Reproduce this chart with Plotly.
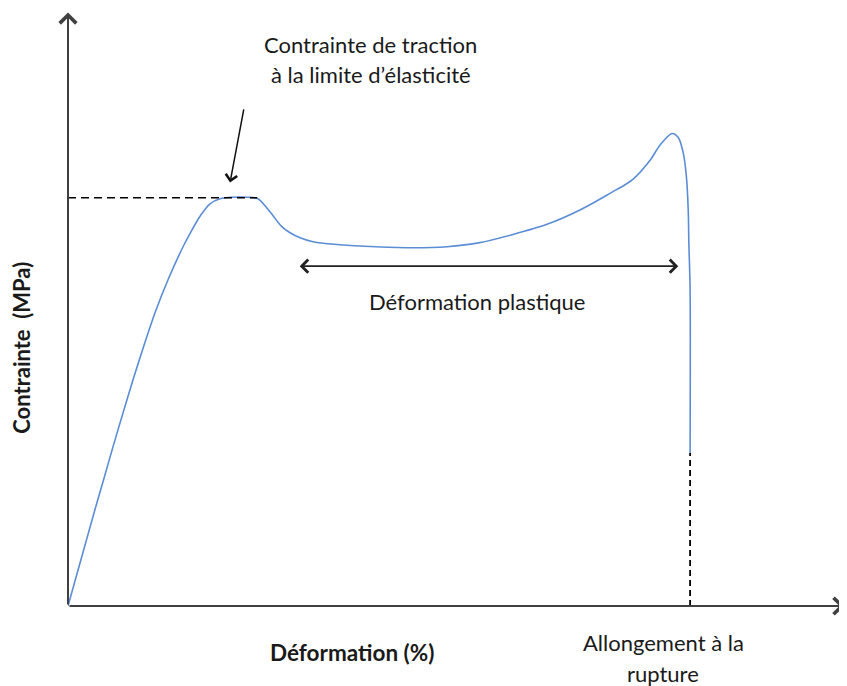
import plotly.graph_objects as go

# stress-strain curve (strain %, stress arbitrary MPa)
strain = [0, 2.65, 4.18, 5.71, 7.23, 8.84, 10.45, 12.14, 13.99, 16.08, 18.49,
          19.94, 21.38, 22.83, 24.44, 26.37, 28.94, 30.55, 31.67, 32.96,
          34.24, 35.69, 37.30, 39.39, 43.73, 49.5, 55.5, 60.9, 66.2, 71.5,
          77.0, 82.3, 87.6, 89.6, 90.8, 93.6, 95.2, 97.1, 98.1, 98.9, 99.4,
          99.7, 99.8, 100.0, 100.0]
stress = [0, 5.78, 9.12, 12.35, 15.59, 18.92, 22.16, 25.39, 28.73, 31.96,
          35.20, 36.86, 38.33, 39.41, 39.90, 40.05, 40.05, 39.90, 39.22,
          38.24, 37.25, 36.57, 36.08, 35.69, 35.39, 35.2, 35.1, 35.2, 35.6,
          36.4, 37.4, 38.8, 40.6, 41.3, 41.8, 43.7, 45.2, 46.3, 45.9, 44.4,
          42.1, 38.8, 35.6, 31.0, 15.0]

yield_strain = 30.4
yield_stress = 40.0
rupture_strain = 100.0
rupture_stress = 15.0
plastic_start, plastic_end, plastic_level = 37.0, 98.1, 33.3

X_MAX, Y_MAX = 124.9, 58.2

FONT = "Lato, 'Open Sans', sans-serif"
INK = "#1a1a1a"
AXIS = "#404040"

fig = go.Figure()

fig.add_trace(go.Scatter(
    x=strain, y=stress, mode="lines",
    line=dict(color="#5B8DD6", width=1.6, shape="spline", smoothing=0.8),
    hoverinfo="skip", showlegend=False,
))

# dashed guides
fig.add_trace(go.Scatter(
    x=[0, yield_strain], y=[yield_stress, yield_stress], mode="lines",
    line=dict(color="black", width=1.5, dash="8px,5px"),
    hoverinfo="skip", showlegend=False,
))
fig.add_trace(go.Scatter(
    x=[rupture_strain, rupture_strain], y=[0, rupture_stress], mode="lines",
    line=dict(color="black", width=1.8, dash="6px,4px"),
    hoverinfo="skip", showlegend=False,
))


def arrow(x0, y0, x1, y1, color=AXIS, width=2, both=False, size=1.6):
    fig.add_annotation(
        x=x1, y=y1, ax=x0, ay=y0, xref="x", yref="y", axref="x", ayref="y",
        text="", showarrow=True, arrowhead=4, arrowsize=size,
        arrowwidth=width, arrowcolor=color,
        arrowside="end+start" if both else "end", startarrowhead=4,
        startarrowsize=size,
    )


def label(txt, x, y, size=22, bold=False, angle=0):
    # paper refs so labels below / left of the axes are not dropped
    fig.add_annotation(
        x=x / X_MAX, y=y / Y_MAX, xref="paper", yref="paper",
        text=f"<b>{txt}</b>" if bold else txt,
        showarrow=False, textangle=angle,
        font=dict(family=FONT, size=size, color=INK),
        xanchor="center", yanchor="middle",
    )


# axes with arrow tips
arrow(0, 0, X_MAX - 0.1, 0)
arrow(0, 0, 0, Y_MAX - 0.05)
# yield pointer and plastic range
arrow(28.3, 48.8, 26.05, 41.5, color="#111111", width=1.5, size=1.5)
arrow(plastic_start, plastic_level, plastic_end, plastic_level,
      color="#222222", width=1.8, both=True, size=1.4)

label("Contrainte de traction", 48.7, 55.0)
label("à la limite d’élasticité", 48.7, 52.1)
label("Déformation plastique", 65.8, 29.8)
label("Déformation (%)", 45.6, -4.6, size=22.5, bold=True)
label("Allongement à la", 95.7, -3.6)
label("rupture", 95.7, -6.6)
label("Contrainte  (MPa)", -7.4, 25.3, size=22, bold=True, angle=-90)

# page body has an 8px margin, so the figure is shrunk/shifted to compensate
fig.update_layout(
    width=839, height=678,
    margin=dict(l=60, r=2, t=4, b=80),
    paper_bgcolor="white", plot_bgcolor="white",
    xaxis=dict(range=[0, X_MAX], visible=False, fixedrange=True),
    yaxis=dict(range=[0, Y_MAX], visible=False, fixedrange=True),
    showlegend=False,
)

fig.write_html("out.html")
